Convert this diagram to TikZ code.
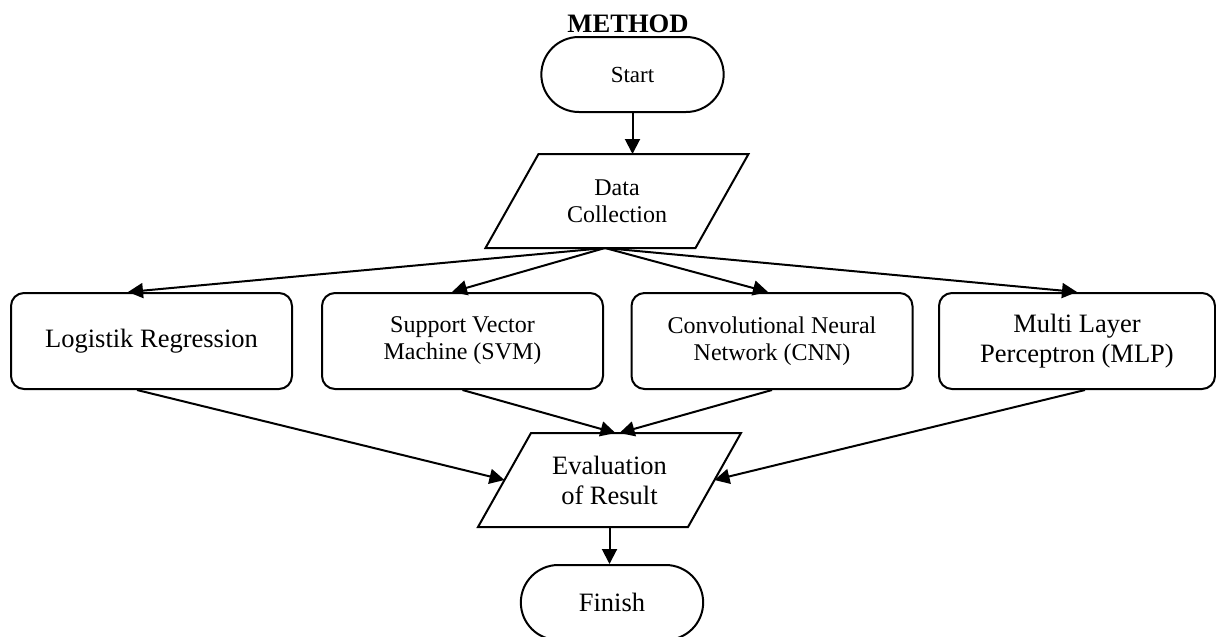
\documentclass[tikz,border=0pt]{standalone}
\usepackage{fontspec}
\setmainfont{Liberation Serif}
\usetikzlibrary{shapes.misc,arrows.meta}

\begin{document}
\begin{tikzpicture}[x=1pt, y=-1pt, line width=2pt,
    terminal/.style={draw, rounded rectangle, minimum width=189pt,
      minimum height=75pt},
    io/.style={minimum width=208pt, minimum height=92pt, align=center},
    model/.style={draw, rounded corners=13pt, minimum width=281pt,
      minimum height=96pt, align=center},
    arr/.style={-{Triangle[length=15pt, width=15pt]}},
    small/.style={font=\fontsize{24}{27}\selectfont},
    big/.style={font=\fontsize{26.5}{30}\selectfont}]
      \useasboundingbox (0,0) rectangle (1216,637);
      \node[anchor=base, font=\fontsize{26.6}{30}\selectfont\bfseries] (title)
      at (628,32) {METHOD};
      % Shapes
      \node[terminal, font=\fontsize{23}{26}\selectfont] (start) at (632.5,74.5)
      {Start};
      \node[io, small] (dc) at (617,201) {Data\\Collection};
      \node[model, big] (lr) at (151.5,341) {Logistik Regression};
      \node[model, small] (svm) at (462.5,341) {Support Vector\\Machine (SVM)};
      \node[model, small] (cnn) at (772,341) {Convolutional Neural\\Network
        (CNN)};
      \node[model, big, minimum width=276pt] (mlp) at (1077,341) {Multi
        Layer\\Perceptron (MLP)};
      \node[io, big] (ev) at (609.5,480) {Evaluation\\of Result};
      \node[terminal, big] (fin) at (612,602.5) {Finish};
      % Parallelograms
      \foreach \n in {dc,ev}
        \draw ([xshift=-26.5pt]\n.south west) -- ([xshift=26.5pt]\n.north west)
        -- ([xshift=26.5pt]\n.north east) -- ([xshift=-26.5pt]\n.south east)
        -- cycle;
      % Arrows
      \draw[arr] (start.south) -- (start.south |- dc.north);
      \draw[arr] ([xshift=-12pt]dc.south) -- ([xshift=-23.5pt]lr.north);
      \draw[arr] ([xshift=-12pt]dc.south) -- ([xshift=-10.5pt]svm.north);
      \draw[arr] ([xshift=-12pt]dc.south) -- ([xshift=-4pt]cnn.north);
      \draw[arr] ([xshift=-12pt]dc.south) -- (mlp.north);
      \draw[arr] ([xshift=-14.5pt]lr.south) -- (ev.west);
      \draw[arr] (svm.south) -- ([xshift=6pt]ev.north);
      \draw[arr] (cnn.south) -- ([xshift=10pt]ev.north);
      \draw[arr] ([xshift=8pt]mlp.south) -- (ev.east);
      \draw[arr] (ev.south) -- (ev.south |- fin.north);
    \end{tikzpicture}
\end{document}
